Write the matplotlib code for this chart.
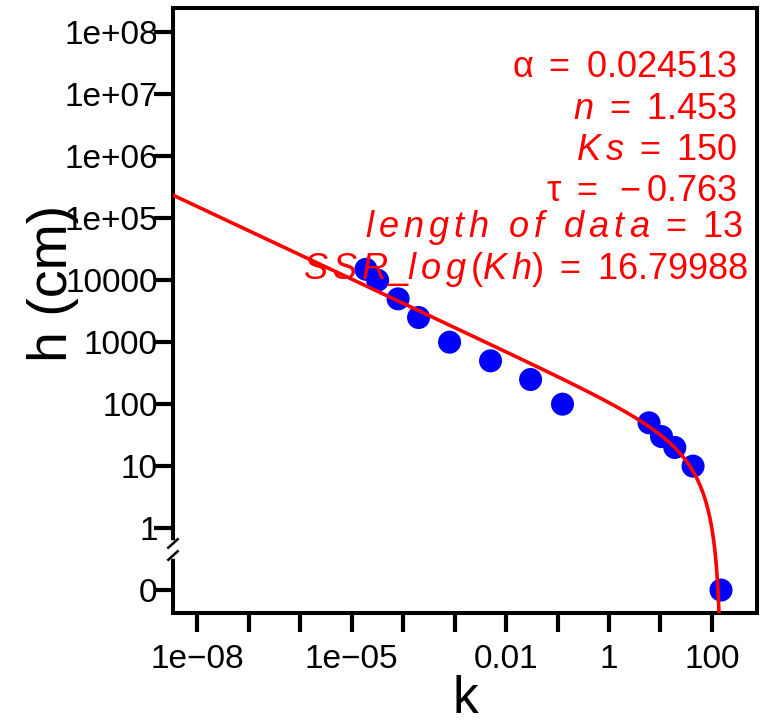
import matplotlib.pyplot as plt
import numpy as np

plt.rcParams['font.family'] = ['Liberation Sans', 'DejaVu Sans']
plt.rcParams['mathtext.fontset'] = 'custom'
plt.rcParams['mathtext.rm'] = 'Liberation Sans'
plt.rcParams['mathtext.it'] = 'Liberation Sans:italic'

# Measured conductivity k against pressure head h (h = 0 is saturation)
k_obs = [1.9e-5, 3.2e-5, 8e-5, 2e-4, 8e-4, 5e-3, 0.03, 0.125, 6, 10.5, 19, 43, 150]
h_obs = [15000, 10000, 5000, 2500, 1000, 500, 250, 100, 50, 30, 20, 10, 0]

# Fitted Mualem-van Genuchten parameters
alpha = 0.024513
n = 1.453
Ks = 150
tau = -0.763
ssr = 16.79988

y_ticks = [1e8, 1e7, 1e6, 1e5, 1e4, 1e3, 100, 10, 1, 0]
y_ticklabels = ['1e+08', '1e+07', '1e+06', '1e+05', '10000', '1000', '100', '10', '1', '0']
x_ticks = [1e-8, 1e-7, 1e-6, 1e-5, 1e-4, 1e-3, 1e-2, 1e-1, 1, 10, 100]
x_ticklabels = ['1e\u221208', '', '', '1e\u221205', '', '', '0.01', '', '1', '', '100']

# h = 0 sits one decade below 1 on the log axis
zero_pos = 0.1


def to_axis(h):
    return np.where(np.asarray(h, dtype=float) == 0, zero_pos, h)


def mvg_k(h):
    m = 1.0 - 1.0 / n
    se = (1.0 + (alpha * h) ** n) ** (-m)
    return Ks * se ** tau * (1.0 - (1.0 - se ** (1.0 / m)) ** m) ** 2


h_fit = np.logspace(-2, 6, 800)
k_fit = mvg_k(h_fit)

fig = plt.figure(figsize=(7.74, 7.27), dpi=100)
ax = fig.add_axes([0.2235, 0.1568, 0.7545, 0.832])

ax.scatter(k_obs, to_axis(h_obs), s=275, color='#0000ff', edgecolors='none', zorder=2)
ax.plot(k_fit, h_fit, color='#ff0000', lw=2.6, zorder=3)

ax.set_xscale('log')
ax.set_yscale('log')
ax.set_xlim(10 ** -8.47, 10 ** 2.875)
ax.set_ylim(10 ** -1.37, 10 ** 8.39)

ax.set_xticks(x_ticks)
ax.set_xticklabels(x_ticklabels)
ax.set_yticks(to_axis(y_ticks))
ax.set_yticklabels(y_ticklabels)
ax.minorticks_off()
ax.tick_params(axis='both', which='major', width=3, length=14, labelsize=24, direction='out')
ax.tick_params(axis='x', pad=8)
ax.tick_params(axis='y', pad=-3)

for side in ax.spines.values():
    side.set_linewidth(2.9)

# Axis break between 1 and 0
yb0, yb1 = 0.095, 0.115
ax.plot([0, 0], [yb0, yb1], transform=ax.transAxes, color='white', lw=4, clip_on=False, zorder=5)
for yb in (yb0, yb1):
    ax.plot([-0.008, 0.008], [yb - 0.007, yb + 0.007], transform=ax.transAxes,
            color='black', lw=1.8, clip_on=False, zorder=6)

ax.set_xlabel('k', fontsize=37, labelpad=0)
fig.text(0.069, 0.61, 'h (cm)', rotation=90, fontsize=40, ha='center', va='center')

notes = [
    (r'$\mathrm{\alpha}\ =\ %s$' % f'{alpha:g}', 0.966, 0.902),
    (r'$n\ =\ %s$' % f'{n:g}', 0.966, 0.833),
    (r'$K\,s\ =\ %d$' % Ks, 0.966, 0.764),
    (r'$\mathrm{\tau}\ =\ %s$' % f'{tau:g}'.replace('-', '\u2212'), 0.966, 0.697),
    (r'$l\,e\,n\,g\,t\,h\ \ o\,f\ \ d\,a\,t\,a\ =\ %d$' % len(k_obs), 0.976, 0.638),
    (r'$S\,S\,R\_l\,o\,g\,\mathrm{(}K\,h\mathrm{)}\ =\ %s$' % f'{ssr:.5f}', 0.985, 0.568),
]
for txt, xa, ya in notes:
    ax.text(xa, ya, txt, transform=ax.transAxes, ha='right', va='center',
            color='#ff0000', fontsize=26, zorder=4)

fig.savefig('out.png', dpi=100)
